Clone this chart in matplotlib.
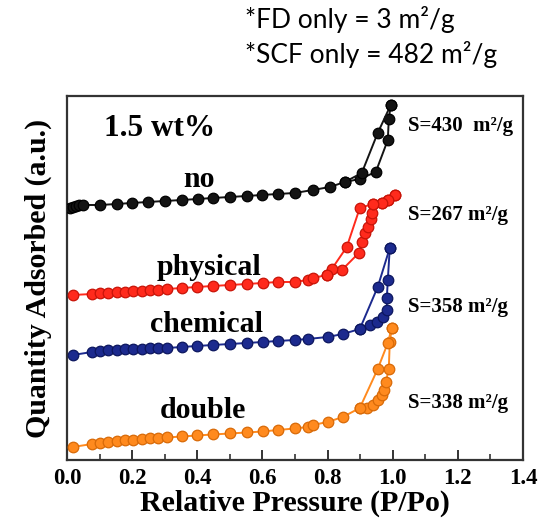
import matplotlib
matplotlib.use("Agg")
import matplotlib.pyplot as plt
from matplotlib.ticker import MultipleLocator

# ---------------- data (P/Po, quantity adsorbed in a.u.) ----------------
low_x = [0.018, 0.077, 0.101, 0.126, 0.153, 0.178, 0.202, 0.230, 0.255, 0.279,
         0.307, 0.353, 0.399, 0.448, 0.500, 0.552, 0.601, 0.647, 0.699, 0.739]

no_ads_x = [0.009, 0.018, 0.028, 0.037, 0.049, 0.101, 0.153, 0.199, 0.248, 0.301,
            0.353, 0.402, 0.448, 0.500, 0.552, 0.598, 0.647, 0.699, 0.755, 0.807,
            0.853, 0.899, 0.948, 0.985, 0.988, 0.994]
no_ads_y = [252, 253, 254, 255, 255, 255, 256, 257, 258, 259,
            260, 261, 262, 263, 264, 265, 266, 267, 270, 273,
            278, 281, 288, 320, 341, 355]
no_des_x = [0.994, 0.954, 0.905, 0.853]
no_des_y = [355, 327, 287, 278]

phys_ads_x = low_x + [0.755, 0.798, 0.844, 0.896, 0.905, 0.914, 0.923, 0.933,
                      0.936, 0.939, 0.966, 0.985, 1.006]
phys_ads_y = [165, 166, 167, 167, 168, 168, 169, 169, 170, 170,
              171, 172, 173, 174, 175, 176, 177, 178, 178, 180,
              182, 185, 190, 207, 218, 227, 233, 241, 247, 256, 257, 260, 265]
phys_des_x = [1.006, 0.985, 0.966, 0.939, 0.899, 0.859, 0.813, 0.798]
phys_des_y = [265, 260, 257, 256, 252, 213, 191, 185]

chem_ads_x = low_x + [0.800, 0.847, 0.899, 0.929, 0.951, 0.969, 0.982, 0.982,
                      0.985, 0.991]
chem_ads_y = [105, 108, 109, 109.5, 110, 110.5, 111, 111, 111.5, 112,
              112, 113, 114, 115, 116, 117, 118, 119, 120, 121,
              123, 126, 131, 135, 138, 143, 150, 162, 180, 212]
chem_des_x = [0.991, 0.954, 0.899]
chem_des_y = [212, 173, 131]

dbl_ads_x = low_x + [0.755, 0.800, 0.847, 0.899, 0.920, 0.939, 0.954, 0.966,
                     0.972, 0.979, 0.988, 0.991, 0.997]
dbl_ads_y = [13, 16, 17, 18, 19, 19.5, 20, 21, 21.5, 22,
             22.5, 23.5, 24.5, 25.5, 26.5, 27.5, 28.5, 30, 31.5, 33,
             35, 38, 43, 52, 52, 55, 60, 65, 70, 78, 91, 118, 132]
dbl_des_x = [0.997, 0.985, 0.954, 0.899]
dbl_des_y = [132, 117, 91, 52]

samples = ["no", "physical", "chemical", "double"]
areas = ["S=430  m²/g", "S=267 m²/g", "S=358 m²/g", "S=338 m²/g"]
colors = ["#141414", "#ff2a1c", "#1c2a8e", "#ff8a1e"]
edge_colors = ["#000000", "#c81408", "#0c165e", "#d86a08"]
x_ticks = [0.0, 0.2, 0.4, 0.6, 0.8, 1.0, 1.2, 1.4]
notes = ["*FD only = 3 m²/g", "*SCF only = 482 m²/g"]

series = [
    (no_ads_x, no_ads_y, no_des_x, no_des_y),
    (phys_ads_x, phys_ads_y, phys_des_x, phys_des_y),
    (chem_ads_x, chem_ads_y, chem_des_x, chem_des_y),
    (dbl_ads_x, dbl_ads_y, dbl_des_x, dbl_des_y),
]

# ---------------- figure ----------------
serif = ["Liberation Serif", "DejaVu Serif"]
fig = plt.figure(figsize=(5.41, 5.28), dpi=100)
ax = fig.add_axes([0.1238, 0.1288, 0.8429, 0.6894])

for (ax_x, ax_y, de_x, de_y), c, ec in zip(series, colors, edge_colors):
    for xs, ys in ((ax_x, ax_y), (de_x, de_y)):
        ax.plot(xs, ys, color=c, lw=1.4, marker="o", ms=7.6,
                markerfacecolor=c, markeredgecolor=ec, markeredgewidth=0.9,
                zorder=3)

ax.set_xlim(0, 1.4)
ax.set_ylim(0, 364)
ax.set_xticks(x_ticks)
ax.set_xticklabels([f"{t:.1f}" for t in x_ticks], fontfamily=serif,
                   fontweight="bold", fontsize=16.5)
ax.xaxis.set_minor_locator(MultipleLocator(0.1))
ax.tick_params(axis="x", which="major", direction="in", length=7, width=1.4,
               color="#333333", pad=6)
ax.tick_params(axis="x", which="minor", direction="in", length=4, width=1.2,
               color="#333333")
ax.set_yticks([])
for s in ax.spines.values():
    s.set_linewidth(1.6)
    s.set_color("#333333")

ax.set_xlabel("Relative Pressure (P/Po)", fontfamily=serif, fontweight="bold",
              fontsize=21.5, labelpad=0)
ax.set_ylabel("Quantity Adsorbed (a.u.)", fontfamily=serif, fontweight="bold",
              fontsize=21.5, labelpad=11)

ax.text(0.202, 0.890, "1.5 wt%", transform=ax.transAxes, ha="center",
        va="baseline", fontfamily=serif, fontweight="bold", fontsize=22.5)

label_pos = [(0.289, 0.750), (0.3125, 0.508), (0.306, 0.352), (0.299, 0.115)]
area_y = [0.904, 0.659, 0.407, 0.143]
for name, (lx, ly), area, ay in zip(samples, label_pos, areas, area_y):
    ax.text(lx, ly, name, transform=ax.transAxes, ha="center", va="baseline",
            fontfamily=serif, fontweight="bold", fontsize=21.5)
    ax.text(0.748, ay, area, transform=ax.transAxes, ha="left", va="baseline",
            fontfamily=serif, fontweight="bold", fontsize=15)

for i, note in enumerate(notes):
    fig.text(0.453, 0.947 - i * 0.066, note, ha="left", va="baseline",
             fontfamily=["Lato", "DejaVu Sans"], fontsize=19)

fig.savefig("out.png", dpi=100)
